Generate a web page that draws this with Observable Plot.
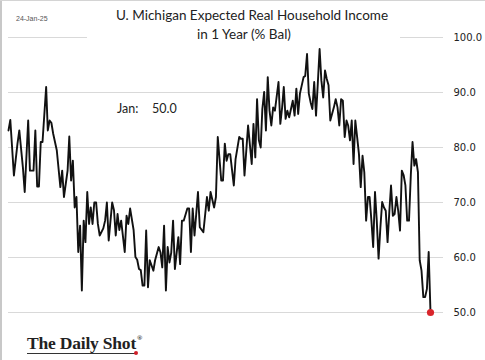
<!DOCTYPE html>
<html>
<head>
<meta charset="utf-8">
<script src="https://cdn.jsdelivr.net/npm/d3@7"></script>
<script src="https://cdn.jsdelivr.net/npm/@observablehq/plot@0.6"></script>
<style>
  html, body { margin: 0; padding: 0; background: #fff; }
  #wrap { position: relative; width: 485px; height: 360px; background: #fff; overflow: hidden; }
  #chart { position: absolute; left: 0; top: 0; }
  .abs { position: absolute; white-space: nowrap; }
  .tbox { left: 87px; top: 0; width: 313px; height: 46px; background: #fff; }
  .t1, .t2 { font-family: Lato, "Open Sans", sans-serif; font-size: 13.5px; line-height: 1.2; color: #222; text-align: center; }
  .t1 { left: 52px; width: 400px; top: 7px; }
  .t2 { left: 44px; width: 400px; top: 25.6px; }
  .date { left: 16px; top: 15px; font-family: "Liberation Sans", Arial, sans-serif; font-size: 7px; line-height: 1; color: #555; }
  .ann { top: 100.5px; font-family: Lato, sans-serif; font-size: 12.5px; line-height: 1.2; color: #222; }
  .logo { left: 27px; top: 335px; font-family: "Liberation Serif", "DejaVu Serif", serif; font-weight: bold; font-size: 17.5px; line-height: 1; color: #222; }
  .logo .u { display: inline-block; border-bottom: 1px solid #333; padding-bottom: 0; letter-spacing: -0.2px; }
  .logo sup { font-size: 7px; position: relative; top: -2px; margin-left: 1px; }
  .rdot { width: 4px; height: 4px; border-radius: 50%; background: #d0202a; left: 134px; top: 351px; }
  .bl { left: 0; top: 0; width: 2px; height: 360px; background: #c8c8c8; }
  .bt { left: 0; top: 0; width: 485px; height: 1px; background: #d4d4d4; }
</style>
</head>
<body>
<div id="wrap">
  <div id="chart"></div>
  <div class="abs tbox"></div>
  <div class="abs t1" id="t1"></div>
  <div class="abs t2" id="t2"></div>
  <div class="abs date" id="date"></div>
  <div class="abs ann" id="annLabel" style="left:117px"></div>
  <div class="abs ann" id="annValue" style="left:152px"></div>
  <div class="abs logo"><span class="u">The Daily Shot</span><sup>®</sup></div>
  <div class="abs rdot"></div>
  <div class="abs bl"></div>
  <div class="abs bt"></div>
</div>
<script>
// ---- Data ----
const titleLines = ["U. Michigan Expected Real Household Income", "in 1 Year (% Bal)"];
const dateStamp = "24-Jan-25";
const annotationLabel = "Jan:";
const yTicks = [50, 60, 70, 80, 90, 100];

const dates = [
  "2005-05","2005-06","2005-08","2005-10","2005-11",
  "2006-01","2006-02","2006-04","2006-05","2006-07","2006-08","2006-09","2006-10","2006-11","2006-12",
  "2007-02","2007-03","2007-04","2007-05","2007-06","2007-08","2007-10","2007-11","2007-12",
  "2008-02","2008-03","2008-04","2008-05","2008-06","2008-07","2008-08","2008-09","2008-10","2008-11","2008-12",
  "2009-01","2009-02","2009-03","2009-04","2009-05","2009-06","2009-07","2009-08","2009-10","2009-11","2009-12",
  "2010-01","2010-03","2010-04","2010-05","2010-06","2010-07","2010-08","2010-10","2010-11","2010-12",
  "2011-01","2011-03","2011-04","2011-05","2011-06","2011-07","2011-08","2011-09","2011-10","2011-11","2011-12",
  "2012-02","2012-03","2012-05","2012-06","2012-07","2012-08","2012-09","2012-10","2012-11","2012-12",
  "2013-01","2013-02","2013-04","2013-05","2013-06","2013-07","2013-09","2013-10","2013-11","2013-12",
  "2014-01","2014-03","2014-04","2014-06","2014-08","2014-09","2014-10","2014-12",
  "2015-01","2015-02","2015-04","2015-05","2015-06","2015-07","2015-08","2015-09","2015-11","2015-12",
  "2016-02","2016-03","2016-04","2016-05","2016-06","2016-07","2016-09","2016-10","2016-11","2016-12",
  "2017-01","2017-02","2017-03","2017-04","2017-05","2017-06","2017-07","2017-08","2017-09","2017-10","2017-12",
  "2018-01","2018-02","2018-03","2018-04","2018-05","2018-06","2018-08","2018-09","2018-10","2018-11","2018-12",
  "2019-02","2019-03","2019-04","2019-05","2019-06","2019-07","2019-08","2019-09","2019-10","2019-11","2019-12",
  "2020-01","2020-02","2020-03","2020-04","2020-05","2020-07","2020-08","2020-09","2020-10","2020-11","2020-12",
  "2021-01","2021-02","2021-03","2021-04","2021-05","2021-06","2021-07","2021-08","2021-09","2021-10","2021-11","2021-12",
  "2022-01","2022-02","2022-03","2022-04","2022-05","2022-06","2022-07","2022-08","2022-09","2022-10","2022-11","2022-12",
  "2023-01","2023-02","2023-03","2023-04","2023-05","2023-06","2023-07","2023-08","2023-09","2023-10","2023-11","2023-12",
  "2024-01","2024-02","2024-03","2024-04","2024-05","2024-06","2024-07","2024-08","2024-09","2024-10","2024-11","2024-12",
  "2025-01"
];

const values = [
  83.1, 85.0, 74.9, 80.7, 83.1,
  76.4, 71.9, 84.9, 75.8, 75.8, 83.1, 72.9, 72.9, 81.0, 81.0,
  91.0, 83.1, 84.9, 84.5, 82.5, 79.5, 72.8, 75.8, 71.0,
  75.8, 82.0, 74.0, 77.6, 69.1, 71.0, 61.0, 65.8, 54.0, 66.7, 62.8,
  71.9, 66.1, 69.1, 66.1, 70.0, 70.0, 66.1, 64.0, 65.3, 66.7, 70.0,
  63.1, 70.0, 68.6, 64.0, 67.9, 65.0, 66.7, 61.0, 67.6, 66.1,
  68.9, 65.0, 60.1, 59.6, 57.9, 57.7, 54.9, 54.9, 64.9, 54.6, 59.5,
  57.6, 59.5, 61.9, 60.9, 58.2, 65.8, 54.0, 61.9, 59.1, 60.9,
  66.7, 57.9, 63.7, 58.8, 66.7, 66.7, 68.9, 68.9, 61.0, 68.9,
  64.0, 71.9, 65.5, 64.6, 71.0, 68.5, 71.9, 69.1,
  71.0, 81.9, 74.0, 74.0, 80.7, 77.6, 78.8, 78.8, 73.1, 77.9,
  81.9, 81.6, 81.6, 74.9, 79.5, 84.0, 77.0, 84.3, 78.2, 88.8,
  81.3, 80.0, 87.0, 90.1, 83.1, 92.8, 86.7, 84.0, 87.3, 86.7, 91.9,
  84.3, 87.3, 91.0, 85.2, 86.7, 85.5, 88.5, 85.8, 90.7, 86.1, 89.8,
  92.8, 93.0, 97.0, 89.8, 88.2, 87.0, 91.9, 85.8, 91.6, 97.9, 92.2,
  89.1, 94.0, 92.5, 91.3, 84.9, 87.3, 88.8, 87.3, 84.0, 88.8, 88.5,
  81.9, 84.9, 84.0, 81.3, 84.9, 77.0, 84.9, 81.9, 78.8, 72.8, 78.5, 75.5,
  66.7, 71.0, 71.0, 66.7, 61.9, 71.9, 66.7, 59.8, 65.5, 70.1, 69.1, 68.5,
  62.8, 68.5, 73.1, 67.6, 67.9, 71.0, 68.5, 64.9, 75.8, 75.0, 73.1, 66.7,
  66.7, 75.0, 81.0, 76.7, 77.9, 75.5, 59.5, 57.6, 52.8, 52.8, 54.3, 61.0,
  50.0
];

// ---- Build ----
const parse = d3.utcParse("%Y-%m");
const data = dates.map((d, i) => ({date: parse(d), value: values[i]}));
const last = data[data.length - 1];

document.getElementById("t1").textContent = titleLines[0];
document.getElementById("t2").textContent = titleLines[1];
document.getElementById("date").textContent = dateStamp;
document.getElementById("annLabel").textContent = annotationLabel;
document.getElementById("annValue").textContent = last.value.toFixed(1);

const plot = Plot.plot({
  width: 485,
  height: 330,
  marginLeft: 8,
  marginRight: 42,
  marginTop: 37,
  marginBottom: 18,
  style: {fontFamily: "'DejaVu Sans', sans-serif", fontSize: "10px", color: "#222", background: "transparent", overflow: "visible"},
  x: {type: "utc", insetRight: 13, axis: null},
  y: {domain: [50, 100], axis: null},
  marks: [
    Plot.gridY(yTicks, {stroke: "#d9d9d9", strokeOpacity: 1, strokeWidth: 1}),
    Plot.axisY(yTicks, {anchor: "right", tickSize: 0, tickPadding: 10, tickFormat: d => d.toFixed(1), label: null, fill: "#222"}),
    Plot.lineY(data, {x: "date", y: "value", stroke: "#111", strokeWidth: 1.9}),
    Plot.dot([last], {x: "date", y: "value", r: 3.6, fill: "#d9252b", stroke: "none"})
  ]
});
document.getElementById("chart").appendChild(plot);
</script>
</body>
</html>
